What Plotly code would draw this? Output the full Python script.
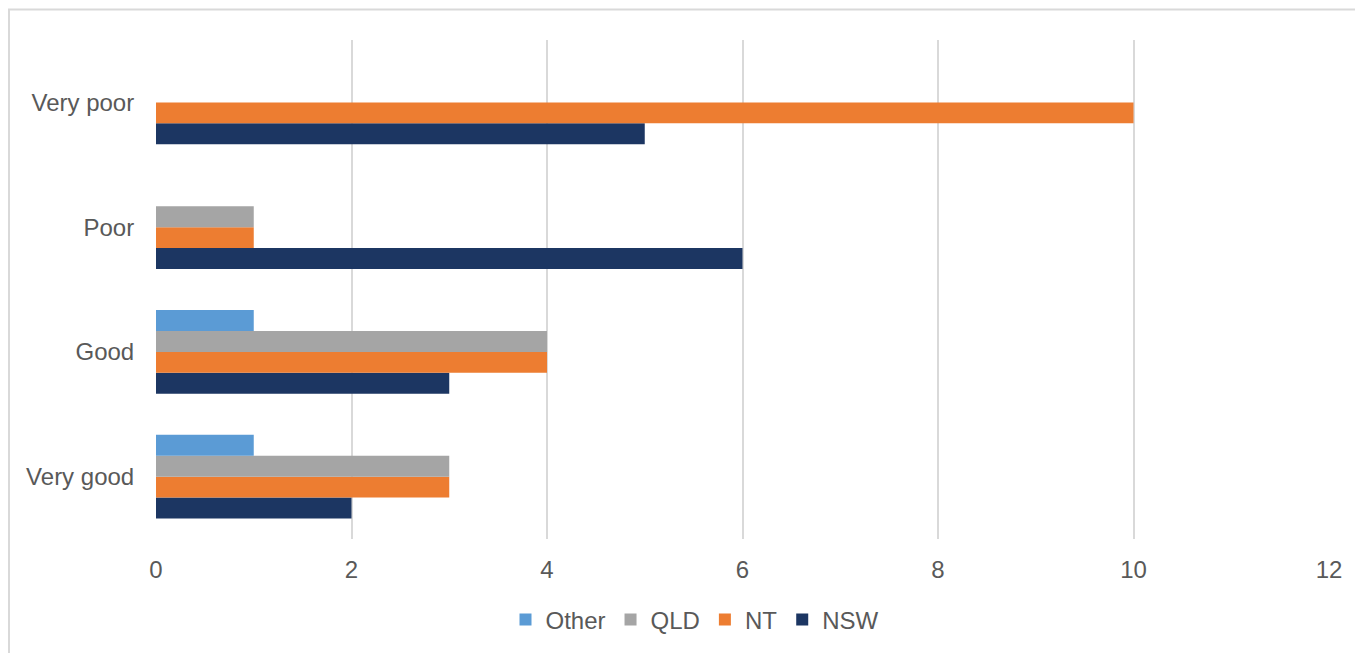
import plotly.graph_objects as go

categories = ["Very good", "Good", "Poor", "Very poor"]
nsw = [2, 3, 6, 5]
nt = [3, 4, 1, 10]
qld = [3, 4, 1, 0]
other = [1, 1, 0, 0]

series = [
    ("NSW", nsw, "#1C3662"),
    ("NT", nt, "#ED7D31"),
    ("QLD", qld, "#A5A5A5"),
    ("Other", other, "#5B9BD5"),
]

fig = go.Figure()
for name, vals, color in series:
    fig.add_trace(go.Bar(
        y=categories, x=vals, name=name, orientation="h",
        marker=dict(color=color, line=dict(width=0)),
    ))

font_color = "#595959"
W, H = 1355, 645
L, R, T, B = 148, 34, 32, 113
PW = W - L - R
PH = H - T - B

fig.update_layout(
    width=W, height=H,
    barmode="group", bargap=0.33, bargroupgap=0,
    plot_bgcolor="white", paper_bgcolor="white",
    margin=dict(l=L, r=R, t=T, b=B),
    font=dict(family="Liberation Sans, Arial, sans-serif", size=24, color=font_color),
    xaxis=dict(
        range=[0, 12], dtick=2, tick0=0,
        showgrid=True, gridcolor="#D9D9D9", gridwidth=2,
        zeroline=False, showline=False,
        ticks="outside", ticklen=9, tickcolor="rgba(0,0,0,0)",
        tickfont=dict(size=24, color=font_color),
    ),
    yaxis=dict(
        showgrid=False, zeroline=False, showline=False,
        ticks="outside", ticklen=16, tickcolor="rgba(0,0,0,0)",
        tickfont=dict(size=24, color=font_color),
    ),
    legend=dict(
        orientation="h", x=(695 - 8 - L) / PW, xanchor="center",
        y=-0.16, yanchor="middle",
        traceorder="reversed", font=dict(size=24, color=font_color),
        itemwidth=30, tracegroupgap=0,
    ),
    shapes=[
        dict(type="rect", xref="paper", yref="paper",
             x0=(1 - L) / PW, x1=1.5, y0=-0.5, y1=(T + PH - 1.5) / PH,
             line=dict(color="#D9D9D9", width=2), fillcolor="rgba(0,0,0,0)",
             layer="below"),
    ],
)

fig.write_html("out.html")
